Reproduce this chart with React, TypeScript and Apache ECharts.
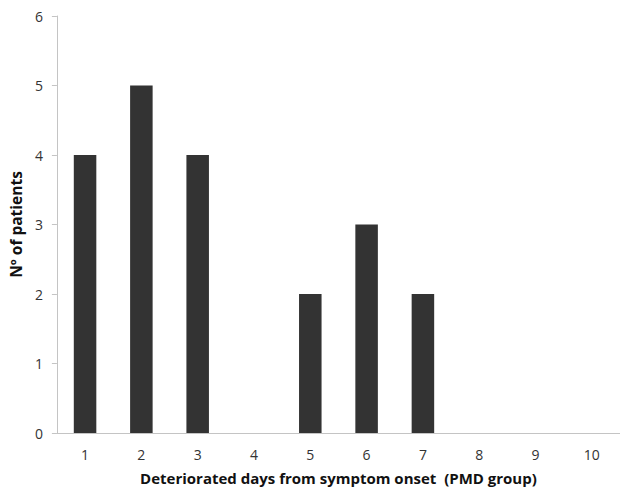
import React, { useEffect, useRef } from "react";
import * as echarts from "echarts";

const categories = ["1", "2", "3", "4", "5", "6", "7", "8", "9", "10"];
const patients = [4, 5, 4, 0, 2, 3, 2, 0, 0, 0];
const yTicks = { min: 0, max: 6, interval: 1 };

export default function App() {
  const ref = useRef<HTMLDivElement>(null);
  useEffect(() => {
    document.body.style.margin = "0";
    const chart = echarts.init(ref.current!, null, { renderer: "svg" });
    const font = "'Open Sans', 'Liberation Sans', sans-serif";
    chart.setOption({
      animation: false,
      backgroundColor: "#ffffff",
      grid: { left: 48, right: -4, top: 16, bottom: 56, containLabel: false },
      xAxis: {
        type: "category",
        data: categories,
        name: "Deteriorated days from symptom onset  (PMD group)",
        nameLocation: "middle",
        nameGap: 37,
        nameTextStyle: { fontFamily: font, fontWeight: "bold", fontSize: 15, color: "#111" },
        axisLine: { lineStyle: { color: "#c4c4c4", width: 1 } },
        axisTick: { show: false },
        axisLabel: { fontFamily: font, fontSize: 14, color: "#333", margin: 14 },
        splitLine: { show: false },
      },
      yAxis: {
        type: "value",
        min: yTicks.min,
        max: yTicks.max,
        interval: yTicks.interval,
        name: "Nº of patients",
        nameLocation: "middle",
        nameGap: 28,
        nameRotate: 90,
        nameTextStyle: { fontFamily: font, fontWeight: "bold", fontSize: 15.5, color: "#111" },
        axisLine: { show: true, lineStyle: { color: "#c4c4c4", width: 1 } },
        axisTick: { show: true, length: 5, lineStyle: { color: "#c4c4c4" } },
        axisLabel: { fontFamily: font, fontSize: 14, color: "#333", margin: 14 },
        splitLine: { show: false },
      },
      series: [
        {
          type: "bar",
          data: patients,
          barWidth: "40%",
          itemStyle: { color: "#333333" },
        },
      ],
    });
    return () => chart.dispose();
  }, []);
  return (
    <div
      ref={ref}
      style={{ position: "fixed", left: 0, top: 0, width: 620, height: 490 }}
    />
  );
}
